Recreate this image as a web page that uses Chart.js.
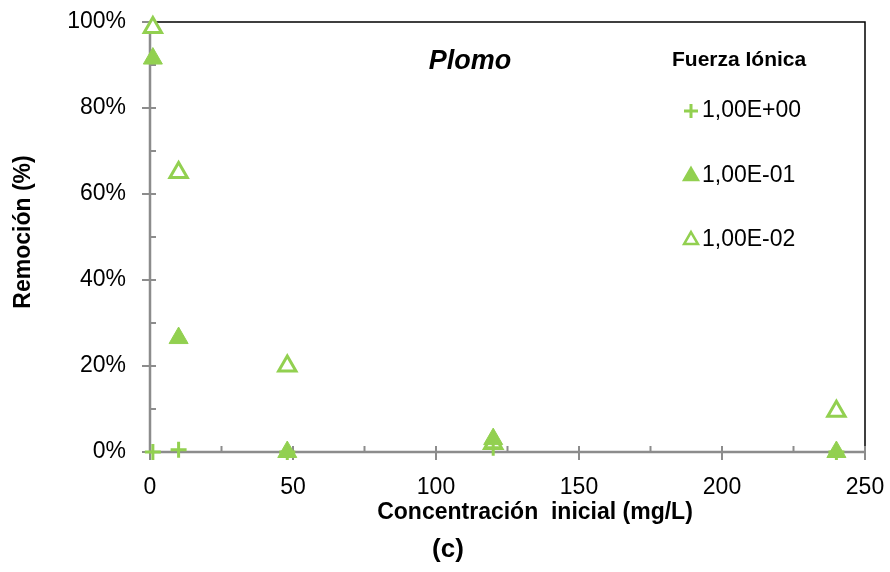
<!DOCTYPE html>
<html>
<head>
<meta charset="utf-8">
<script src="https://cdn.jsdelivr.net/npm/chart.js@4"></script>
<style>
  html, body { margin: 0; padding: 0; background: #fff; }
  #wrap { width: 890px; height: 572px; }
</style>
</head>
<body>
<div id="wrap"><canvas id="chart" width="890" height="572"></canvas></div>
<script>
// Data
const concentraciones = [1, 10, 48, 120, 240];
const fuerza1e0 = [0, 0.5, 0, 1, 0];
const fuerza1e1 = [91.5, 26.5, 0, 3, 0];
const fuerza1e2 = [98.7, 65, 20, 2, 9.5];
const yTicks = [0, 20, 40, 60, 80, 100];
const xTicks = [0, 50, 100, 150, 200, 250];
const legendLabels = ['1,00E+00', '1,00E-01', '1,00E-02'];

const green = '#92D050';
const axisGray = '#8c8c8c';
const fontName = '"Liberation Sans", Arial, sans-serif';

function toPoints(ys) {
    return concentraciones.map(function(x, i) { return { x: x, y: ys[i] }; });
}

// ticks, frame and extra texts
const decorPlugin = {
    id: 'decor',
    beforeDatasetsDraw: function(chart) {
        const ctx = chart.ctx;
        const a = chart.chartArea;
        const xs = chart.scales.x, ys = chart.scales.y;
        ctx.save();
        // black frame on top/right
        ctx.strokeStyle = '#000';
        ctx.lineWidth = 1.5;
        ctx.beginPath();
        ctx.moveTo(a.left, a.top);
        ctx.lineTo(a.right, a.top);
        ctx.lineTo(a.right, a.bottom);
        ctx.stroke();
        // gray axes
        ctx.strokeStyle = axisGray;
        ctx.lineWidth = 2.5;
        ctx.beginPath();
        ctx.moveTo(a.left, a.top);
        ctx.lineTo(a.left, a.bottom);
        ctx.lineTo(a.right, a.bottom);
        ctx.stroke();
        ctx.lineWidth = 2;
        // y ticks
        for (let v = 0; v <= 100; v += 10) {
            const py = ys.getPixelForValue(v);
            const major = v % 20 === 0;
            ctx.beginPath();
            ctx.moveTo(major ? a.left - 8 : a.left, py);
            ctx.lineTo(a.left + 6, py);
            ctx.stroke();
        }
        // x ticks
        for (let v = 0; v <= 250; v += 25) {
            const px = xs.getPixelForValue(v);
            const major = v % 50 === 0;
            ctx.beginPath();
            ctx.moveTo(px, a.bottom - 6);
            ctx.lineTo(px, major ? a.bottom + 8 : a.bottom);
            ctx.stroke();
        }
        // titles
        ctx.fillStyle = '#000';
        ctx.textAlign = 'center';
        ctx.textBaseline = 'middle';
        ctx.font = 'italic bold 27px ' + fontName;
        ctx.fillText('Plomo', 470, 62);
        ctx.font = 'bold 23px ' + fontName;
        ctx.fillText('Concentración  inicial (mg/L)', 535, 513);
        ctx.font = 'bold 26px ' + fontName;
        ctx.fillText('(c)', 448, 550);
        ctx.save();
        ctx.translate(24, 232);
        ctx.rotate(-Math.PI / 2);
        ctx.font = 'bold 23px ' + fontName;
        ctx.fillText('Remoción (%)', 0, 0);
        ctx.restore();
        // legend
        ctx.textAlign = 'left';
        ctx.font = 'bold 21px ' + fontName;
        ctx.fillText('Fuerza Iónica', 672, 60);
        ctx.font = '23px ' + fontName;
        const rowY = [110, 175, 239];
        chart.data.datasets.forEach(function(ds, i) {
            ctx.save();
            ctx.strokeStyle = ds.borderColor;
            ctx.fillStyle = ds.backgroundColor;
            ctx.lineWidth = ds.pointStyle === 'cross' ? 3 : 2.5;
            Chart.helpers.drawPoint(ctx, {
                pointStyle: ds.pointStyle,
                radius: ds.pointStyle === 'cross' ? 7 : 8,
                rotation: 0,
                borderWidth: ctx.lineWidth
            }, 691, rowY[i] + 1);
            ctx.restore();
            ctx.fillStyle = '#000';
            ctx.fillText(legendLabels[i], 702, rowY[i] + 1);
        });
        ctx.restore();
    }
};

new Chart(document.getElementById('chart'), {
    type: 'scatter',
    data: {
        datasets: [{
            label: legendLabels[0],
            data: toPoints(fuerza1e0),
            pointStyle: 'cross',
            pointRadius: 8,
            borderWidth: 3,
            borderColor: green,
            backgroundColor: green
        }, {
            label: legendLabels[1],
            data: toPoints(fuerza1e1),
            pointStyle: 'triangle',
            pointRadius: 11,
            borderWidth: 1,
            borderColor: green,
            backgroundColor: green
        }, {
            label: legendLabels[2],
            data: toPoints(fuerza1e2),
            pointStyle: 'triangle',
            pointRadius: 10,
            borderWidth: 3,
            borderColor: green,
            backgroundColor: '#ffffff'
        }]
    },
    options: {
        responsive: false,
        animation: false,
        clip: false,
        layout: { padding: { left: 0, right: 25, top: 22, bottom: 0 } },
        plugins: {
            legend: { display: false },
            tooltip: { enabled: false }
        },
        scales: {
            x: {
                type: 'linear',
                min: 0,
                max: 250,
                afterBuildTicks: function(scale) {
                    scale.ticks = xTicks.map(function(v) { return { value: v }; });
                },
                afterFit: function(scale) {
                    scale.height = 120;
                    scale.paddingLeft = 0;
                    scale.paddingRight = 0;
                },
                grid: { display: false },
                border: { display: false },
                ticks: {
                    color: '#000',
                    font: { family: fontName, size: 23 },
                    padding: 14,
                    maxRotation: 0
                }
            },
            y: {
                min: 0,
                max: 100,
                afterBuildTicks: function(scale) {
                    scale.ticks = yTicks.map(function(v) { return { value: v }; });
                },
                afterFit: function(scale) {
                    scale.width = 150;
                    scale.paddingTop = 0;
                    scale.paddingBottom = 0;
                },
                grid: { display: false },
                border: { display: false },
                ticks: {
                    color: '#000',
                    font: { family: fontName, size: 23 },
                    padding: 16,
                    callback: function(v) { return v + '%'; }
                }
            }
        }
    },
    plugins: [decorPlugin]
});
</script>
</body>
</html>
